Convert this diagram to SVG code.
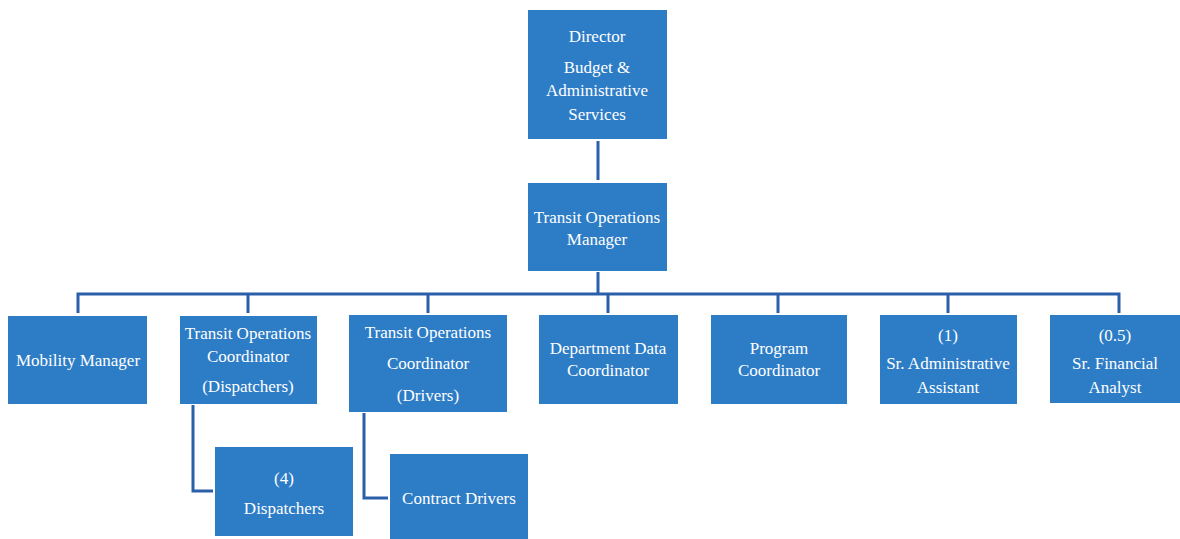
<svg xmlns="http://www.w3.org/2000/svg" width="1180" height="539" viewBox="0 0 1180 539">
<style>
.box{fill:#2d7cc6;}
.t{fill:#ffffff;font-family:"Liberation Serif","Times New Roman",serif;font-size:17px;text-anchor:middle;}
.c{stroke:#2a5faa;stroke-width:3;fill:none;}
</style>
<rect width="1180" height="539" fill="#ffffff"/>
<g id="connectors">
<line class="c" x1="598" y1="141" x2="598" y2="180"/>
<line class="c" x1="598" y1="272" x2="598" y2="294"/>
<path class="c" d="M78 313 V294 H1119 V313"/>
<line class="c" x1="248" y1="294" x2="248" y2="313"/>
<line class="c" x1="428" y1="294" x2="428" y2="313"/>
<line class="c" x1="608" y1="294" x2="608" y2="313"/>
<line class="c" x1="778" y1="294" x2="778" y2="313"/>
<line class="c" x1="948" y1="294" x2="948" y2="313"/>
<path class="c" d="M193 405 V491 H213"/>
<path class="c" d="M364 413 V498 H388"/>
</g>
<g id="director">
<rect class="box" x="528" y="10" width="139" height="129"/>
<text class="t" x="597" y="42">Director</text>
<text class="t" x="597" y="73">Budget &amp;</text>
<text class="t" x="597" y="96">Administrative</text>
<text class="t" x="597" y="120">Services</text>
</g>
<g id="transit-operations-manager">
<rect class="box" x="528" y="183" width="139" height="88"/>
<text class="t" x="597" y="223">Transit Operations</text>
<text class="t" x="597" y="245">Manager</text>
</g>
<g id="mobility-manager">
<rect class="box" x="8" y="316" width="139" height="88"/>
<text class="t" x="78" y="366">Mobility Manager</text>
</g>
<g id="toc-dispatchers">
<rect class="box" x="180" y="316" width="137" height="88"/>
<text class="t" x="248" y="339">Transit Operations</text>
<text class="t" x="248" y="362">Coordinator</text>
<text class="t" x="248" y="392">(Dispatchers)</text>
</g>
<g id="toc-drivers">
<rect class="box" x="349" y="315" width="158" height="97"/>
<text class="t" x="428" y="338">Transit Operations</text>
<text class="t" x="428" y="369">Coordinator</text>
<text class="t" x="428" y="401">(Drivers)</text>
</g>
<g id="department-data-coordinator">
<rect class="box" x="539" y="315" width="139" height="89"/>
<text class="t" x="608" y="354">Department Data</text>
<text class="t" x="608" y="376">Coordinator</text>
</g>
<g id="program-coordinator">
<rect class="box" x="711" y="315" width="136" height="89"/>
<text class="t" x="779" y="354">Program</text>
<text class="t" x="779" y="376">Coordinator</text>
</g>
<g id="sr-administrative-assistant">
<rect class="box" x="880" y="315" width="137" height="89"/>
<text class="t" x="948" y="341">(1)</text>
<text class="t" x="948" y="369">Sr. Administrative</text>
<text class="t" x="948" y="393">Assistant</text>
</g>
<g id="sr-financial-analyst">
<rect class="box" x="1050" y="315" width="130" height="88"/>
<text class="t" x="1115" y="341">(0.5)</text>
<text class="t" x="1115" y="369">Sr. Financial</text>
<text class="t" x="1115" y="393">Analyst</text>
</g>
<g id="dispatchers">
<rect class="box" x="215" y="447" width="138" height="89"/>
<text class="t" x="284" y="484">(4)</text>
<text class="t" x="284" y="514">Dispatchers</text>
</g>
<g id="contract-drivers">
<rect class="box" x="390" y="454" width="138" height="85"/>
<text class="t" x="459" y="504">Contract Drivers</text>
</g>
</svg>
